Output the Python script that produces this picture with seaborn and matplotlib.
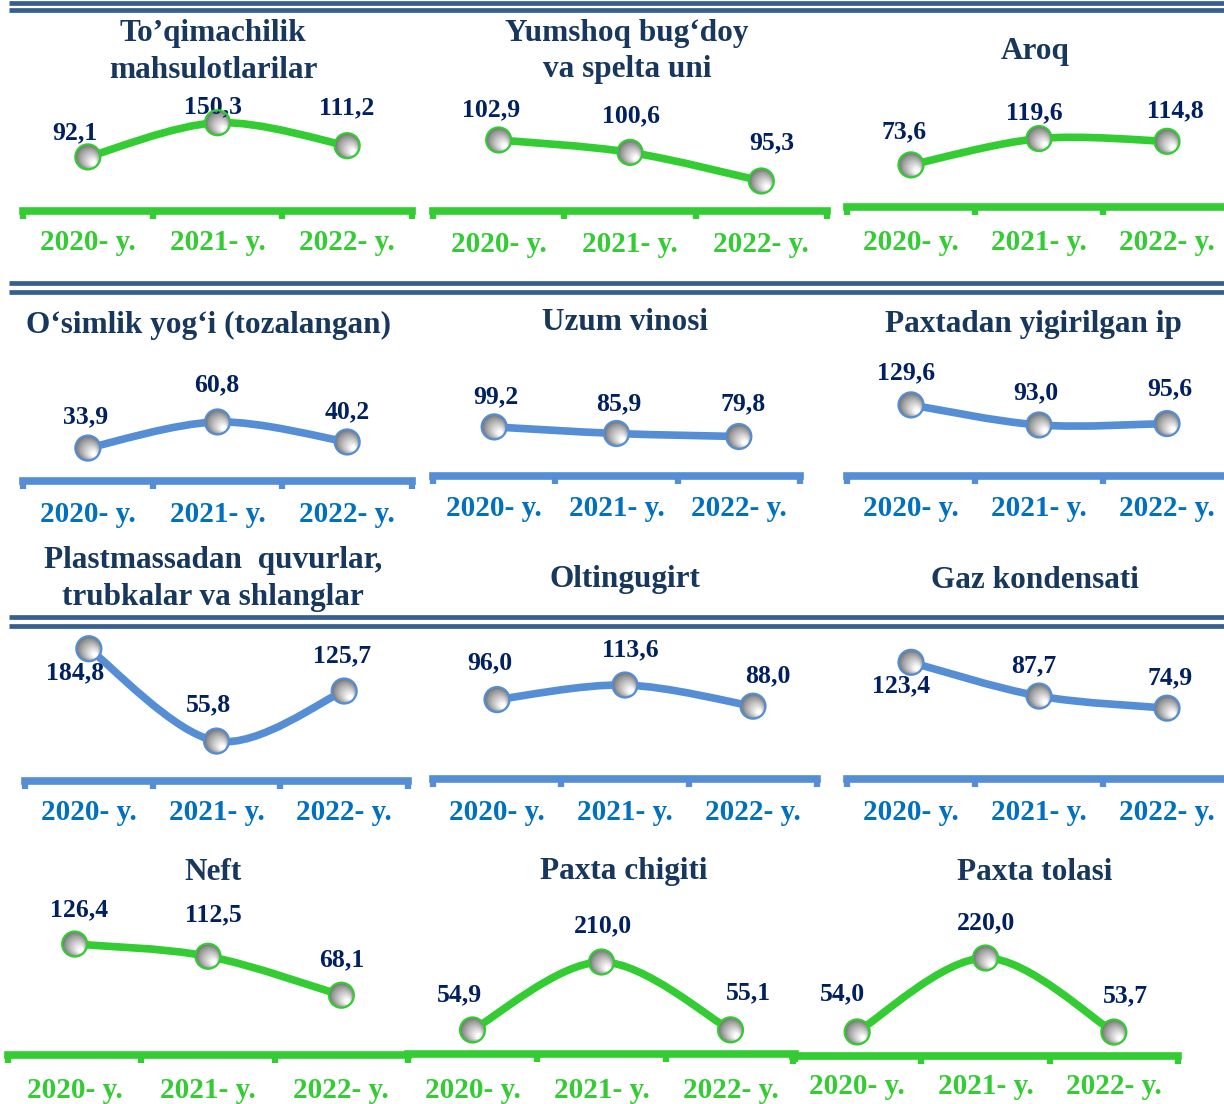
import numpy as np
import pandas as pd
import matplotlib
matplotlib.use("Agg")
import matplotlib.pyplot as plt
import seaborn as sns
from matplotlib.path import Path
from matplotlib.patches import PathPatch
from matplotlib.lines import Line2D
from matplotlib.transforms import offset_copy

# ---- data ----
titles = [
    "To’qimachilik\nmahsulotlarilar",
    "Yumshoq bug‘doy\nva spelta uni",
    "Aroq",
    "O‘simlik yog‘i (tozalangan)",
    "Uzum vinosi",
    "Paxtadan yigirilgan ip",
    "Plastmassadan  quvurlar,\ntrubkalar va shlanglar",
    "Oltingugirt",
    "Gaz kondensati",
    "Neft",
    "Paxta chigiti",
    "Paxta tolasi",
]
years = ["2020- y.", "2021- y.", "2022- y."]
v2020 = [92.1, 102.9, 73.6, 33.9, 99.2, 129.6, 184.8, 96.0, 123.4, 126.4, 54.9, 54.0]
v2021 = [150.3, 100.6, 119.6, 60.8, 85.9, 93.0, 55.8, 113.6, 87.7, 112.5, 210.0, 220.0]
v2022 = [111.2, 95.3, 114.8, 40.2, 79.8, 95.6, 125.7, 88.0, 74.9, 68.1, 55.1, 53.7]

# ---- styling / layout (pixels) ----
W, H = 1224, 1104
GREEN, BLUE = "#33CC33", "#558ED5"
YEAR_GREEN, YEAR_BLUE = "#33CC33", "#0070C0"
TITLE_C, VAL_C, SEP_C = "#17375E", "#002060", "#365F91"

# x0, x1, axis y, top y, ylim, year label dy
layout = [
    (23, 412, 211, 100, (0, 189), 31),
    (433, 827, 211, 100, (89.74, 110.3), 34),
    (847, 1231, 207, 100, (0, 187), 35),
    (23, 412, 481, 380, (0, 104), 34),
    (433, 800, 476, 380, (0, 194), 32),
    (847, 1231, 476, 380, (0, 175), 32),
    (25, 408, 781, 640, (0, 197), 32),
    (433, 817, 779, 640, (0, 168), 33),
    (847, 1231, 779, 640, (0, 147), 33),
    (8, 408, 1055, 935, (0, 136.7), 35),
    (408, 795, 1054, 935, (0, 271.7), 36),
    (793, 1178, 1056, 935, (0, 271.6), 31),
]
# value label offsets (dx, dy) in pixels, image-down positive
label_off = [
    [(-13, -24), (-4, -16), (0, -38)],
    [(-8, -30), (1, -37), (10, -38)],
    [(-7, -33), (-5, -26), (8, -30)],
    [(-2, -31), (-1, -37), (0, -30)],
    [(2, -30), (2, -30), (4, -33)],
    [(-5, -32), (-3, -32), (3, -35)],
    [(-14, 24), (-8, -36), (-2, -35)],
    [(-7, -37), (5, -35), (15, -30)],
    [(-10, 23), (-5, -30), (3, -30)],
    [(4, -34), (5, -41), (0, -35)],
    [(-13, -35), (1, -36), (18, -37)],
    [(-15, -38), (0, -35), (12, -36)],
]
title_pos = [(213, 51.5), (627, 51.5), (1035, 52), (208, 325), (625, 323), (1033, 325),
             (213, 579), (625, 580), (1035, 580), (213, 872), (624, 872), (1035, 872)]
separators = [2.5, 9.5, 282.5, 291.5, 617, 625.5]

sns.set_theme(style="white")
plt.rcParams["font.family"] = ["Liberation Serif", "DejaVu Serif"]
plt.rcParams["font.weight"] = "bold"

fig = plt.figure(figsize=(W / 100, H / 100), dpi=100)

for y in separators:
    fig.add_artist(Line2D([9 / W, 1], [1 - y / H] * 2, transform=fig.transFigure,
                          color=SEP_C, lw=3.4, solid_capstyle="butt"))


def smooth_path(xs, ys):
    pts = np.column_stack([xs, ys])
    ext = np.vstack([pts[0], pts, pts[-1]])
    verts = [pts[0]]
    codes = [Path.MOVETO]
    for i in range(len(pts) - 1):
        p0, p1, p2, p3 = ext[i], ext[i + 1], ext[i + 2], ext[i + 3]
        verts += [p1 + (p2 - p0) / 6, p2 - (p3 - p1) / 6, p2]
        codes += [Path.CURVE4] * 3
    return Path(verts, codes)


# sphere shading layers: radius (px), offset toward lower-right (px), grey level
R = 12.5
shade = []
for t in np.linspace(0, 1, 12):
    r = R * (1 - 0.8 * t)
    off = (R - r) * 0.62
    g = 0.45 + 0.55 * t ** 0.8
    shade.append((r, off, (g, g, g)))

for k in range(12):
    x0, x1, yax, ytop, ylim, ydy = layout[k]
    green = k < 3 or k >= 9
    lc = GREEN if green else BLUE
    yc = YEAR_GREEN if green else YEAR_BLUE
    ax = fig.add_axes([x0 / W, 1 - yax / H, (x1 - x0) / W, (yax - ytop) / H])
    ax.set_facecolor("none")

    df = pd.DataFrame({"x": [0.5, 1.5, 2.5], "v": [v2020[k], v2021[k], v2022[k]]})

    ax.add_patch(PathPatch(smooth_path(df["x"], df["v"]), fc="none", ec=lc, lw=5.5,
                           capstyle="round", clip_on=False, zorder=2))

    for r, off, c in shade:
        tr = offset_copy(ax.transData, fig=fig, x=off, y=-off, units="dots")
        sns.scatterplot(data=df, x="x", y="v", s=(2 * r * 0.72) ** 2, color=c,
                        edgecolor="none", linewidth=0, transform=tr, legend=False,
                        ax=ax, zorder=3, clip_on=False)
    sns.scatterplot(data=df, x="x", y="v", s=(2 * R * 0.72) ** 2, facecolor="none",
                    edgecolor=lc, linewidth=1.6, legend=False, ax=ax, zorder=4, clip_on=False)

    for i, (xv, vv) in enumerate(zip(df["x"], df["v"])):
        dx, dy = label_off[k][i]
        ax.annotate(f"{vv:.1f}".replace(".", ","), (xv, vv), xytext=(dx, -dy),
                    textcoords="offset pixels", ha="center", va="center",
                    fontsize=18.5, fontweight="bold", color=VAL_C, annotation_clip=False)
        ax.annotate(years[i], (xv, 0), xycoords=("data", "axes fraction"),
                    xytext=(0, -ydy), textcoords="offset pixels", ha="center", va="center",
                    fontsize=21, fontweight="bold", color=yc, annotation_clip=False)

    ax.set_xlim(0, 3)
    ax.set_ylim(*ylim)
    ax.set_xticks([0, 1, 2, 3])
    ax.set_xticklabels([])
    ax.set_yticks([])
    ax.set_xlabel("")
    ax.set_ylabel("")
    ax.tick_params(axis="x", direction="out", length=6, width=4.5, color=lc, bottom=True)
    for side in ["top", "left", "right"]:
        ax.spines[side].set_visible(False)
    ax.spines["bottom"].set_color(lc)
    ax.spines["bottom"].set_linewidth(5.5)

    tx, ty = title_pos[k]
    lines = titles[k].split("\n")
    for j, ln in enumerate(lines):
        yy = ty + (j - (len(lines) - 1) / 2) * 37
        fig.text(tx / W, 1 - yy / H, ln, ha="center", va="center", fontsize=22.5,
                 fontweight="bold", color=TITLE_C)

fig.savefig("out.png", dpi=100)
